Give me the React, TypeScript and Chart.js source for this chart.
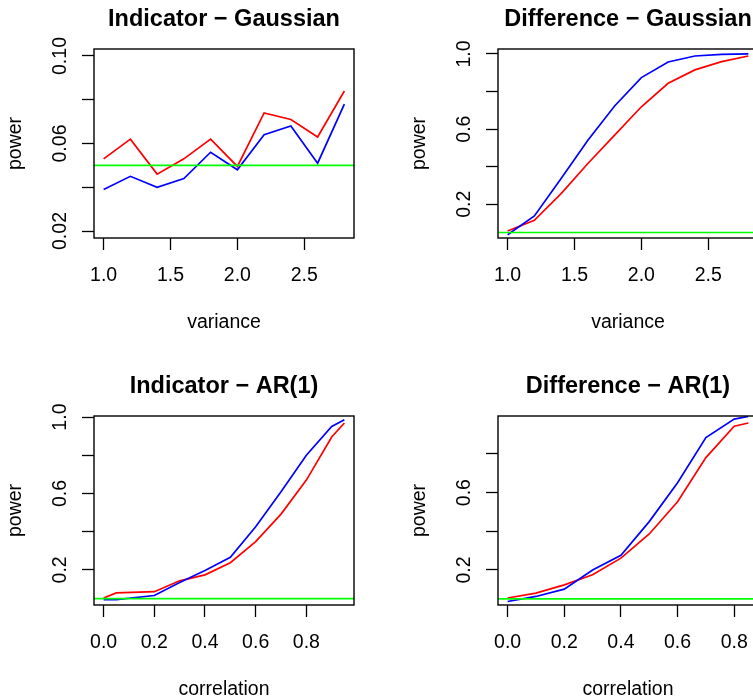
import React, { useEffect, useRef } from "react";
import { Chart, registerables } from "chart.js";

Chart.register(...registerables);

const FONT = "'Liberation Sans', Arial, Helvetica, sans-serif";

// ---------- data ----------
const variance = [1.0, 1.2, 1.4, 1.6, 1.8, 2.0, 2.2, 2.4, 2.6, 2.8];
const varianceTicks = [1.0, 1.5, 2.0, 2.5];
const varianceTickLabels = ["1.0", "1.5", "2.0", "2.5"];

const indGaussRed = [0.053, 0.062, 0.046, 0.053, 0.062, 0.0495, 0.074, 0.071, 0.063, 0.084];
const indGaussBlue = [0.039, 0.045, 0.040, 0.044, 0.056, 0.048, 0.064, 0.068, 0.051, 0.078];
const indGaussYlim = [0.02, 0.1];
const indGaussYTicks = [0.02, 0.04, 0.06, 0.08, 0.1];
const indGaussYTickLabels = ["0.02", "", "0.06", "", "0.10"];

const diffGaussRed = [0.058, 0.115, 0.257, 0.417, 0.568, 0.719, 0.844, 0.915, 0.959, 0.989];
const diffGaussBlue = [0.038, 0.138, 0.337, 0.541, 0.723, 0.874, 0.957, 0.989, 0.998, 1.0];

const powerTicks = [0.2, 0.4, 0.6, 0.8, 1.0];
const powerTickLabels = ["0.2", "", "0.6", "", "1.0"];

const corrInd = [0, 0.05, 0.2, 0.3, 0.4, 0.5, 0.6, 0.7, 0.8, 0.9, 0.95];
const indArRed = [0.053, 0.08, 0.086, 0.143, 0.174, 0.238, 0.348, 0.492, 0.67, 0.896, 0.969];
const indArBlue = [0.044, 0.045, 0.066, 0.134, 0.197, 0.266, 0.426, 0.609, 0.8, 0.951, 0.986];

const corrDiff = [0, 0.1, 0.2, 0.3, 0.4, 0.5, 0.6, 0.7, 0.8, 0.85];
const diffArRed = [0.055, 0.08, 0.123, 0.175, 0.261, 0.386, 0.553, 0.781, 0.943, 0.96];
const diffArBlue = [0.037, 0.063, 0.101, 0.2, 0.276, 0.45, 0.651, 0.885, 0.98, 0.994];

const corrTicks = [0, 0.2, 0.4, 0.6, 0.8];
const corrTickLabels = ["0.0", "0.2", "0.4", "0.6", "0.8"];

const alphaLevel = 0.05;

type Panel = {
  title: string;
  xLabel: string;
  x: number[];
  red: number[];
  blue: number[];
  ylim: number[] | null;
  xTicks: number[];
  xTickLabels: string[];
  yTicks: number[];
  yTickLabels: string[];
};

const PANELS: Panel[] = [
  { title: "Indicator \u2212 Gaussian", xLabel: "variance", x: variance, red: indGaussRed, blue: indGaussBlue, ylim: indGaussYlim, xTicks: varianceTicks, xTickLabels: varianceTickLabels, yTicks: indGaussYTicks, yTickLabels: indGaussYTickLabels },
  { title: "Difference \u2212 Gaussian", xLabel: "variance", x: variance, red: diffGaussRed, blue: diffGaussBlue, ylim: null, xTicks: varianceTicks, xTickLabels: varianceTickLabels, yTicks: powerTicks, yTickLabels: powerTickLabels },
  { title: "Indicator \u2212 AR(1)", xLabel: "correlation", x: corrInd, red: indArRed, blue: indArBlue, ylim: null, xTicks: corrTicks, xTickLabels: corrTickLabels, yTicks: powerTicks, yTickLabels: powerTickLabels },
  { title: "Difference \u2212 AR(1)", xLabel: "correlation", x: corrDiff, red: diffArRed, blue: diffArBlue, ylim: null, xTicks: corrTicks, xTickLabels: corrTickLabels, yTicks: powerTicks, yTickLabels: powerTickLabels },
];

// ---------- helpers ----------
const padRange = (lo: number, hi: number) => {
  const d = (hi - lo) * 0.04;
  return [lo - d, hi + d];
};

const labelFor = (ticks: number[], labels: string[], v: number) => {
  for (let i = 0; i < ticks.length; i++) if (Math.abs(ticks[i] - v) < 1e-9) return labels[i];
  return "";
};

const boxPlugin = {
  id: "rbox",
  afterDatasetsDraw(chart: any) {
    const { ctx, chartArea } = chart;
    ctx.save();
    ctx.strokeStyle = "#000";
    ctx.lineWidth = 1.4;
    ctx.strokeRect(chartArea.left, chartArea.top, chartArea.right - chartArea.left, chartArea.bottom - chartArea.top);
    ctx.restore();
  },
};

const PANEL_W = 404;
const PANEL_H = 367;

function PanelChart({ panel, left, top }: { panel: Panel; left: number; top: number }) {
  const ref = useRef<HTMLCanvasElement | null>(null);
  useEffect(() => {
    if (!ref.current) return;
    const [xMin, xMax] = padRange(Math.min(...panel.x), Math.max(...panel.x));
    const yl = panel.ylim ?? [Math.min(...panel.red), Math.max(...panel.red)];
    const [yMin, yMax] = padRange(yl[0], yl[1]);
    const pts = (ys: number[]) => ys.map((y, i) => ({ x: panel.x[i], y }));
    const tickFont = { family: FONT, size: 19.5, lineHeight: 1.2 };
    const widest = panel.yTickLabels.some((l) => l.length > 3);
    const grid = {
      display: true,
      drawOnChartArea: false,
      drawTicks: true,
      tickLength: 12,
      tickWidth: 1.3,
      tickColor: "#000",
    };
    const chart = new Chart(ref.current, {
      type: "line",
      data: {
        datasets: [
          { data: [{ x: xMin, y: alphaLevel }, { x: xMax, y: alphaLevel }], borderColor: "#00FF00", borderWidth: 1.7 },
          { data: pts(panel.blue), borderColor: "#0000FF", borderWidth: 1.7 },
          { data: pts(panel.red), borderColor: "#FF0000", borderWidth: 1.7 },
        ],
      },
      options: {
        animation: false,
        responsive: false,
        devicePixelRatio: 1,
        events: [],
        layout: { padding: { left: 0, right: 50, top: 0, bottom: 0 } },
        elements: { point: { radius: 0 }, line: { tension: 0 } },
        plugins: {
          legend: { display: false },
          tooltip: { enabled: false },
          title: {
            display: true,
            text: panel.title,
            fullSize: false,
            color: "#000",
            font: { family: FONT, size: 23.5, weight: "bold", lineHeight: 1.2 },
            padding: { top: 5.8, bottom: 15 },
          },
        },
        scales: {
          x: {
            type: "linear",
            min: xMin,
            max: xMax,
            afterBuildTicks: (s: any) => {
              s.ticks = panel.xTicks.filter((v) => v >= s.min - 1e-9 && v <= s.max + 1e-9).map((v) => ({ value: v }));
            },
            afterFit: (s: any) => {
              s.height = 129;
            },
            border: { display: false },
            grid,
            ticks: {
              autoSkip: false,
              maxRotation: 0,
              minRotation: 0,
              color: "#000",
              font: tickFont,
              padding: 14,
              callback: (v: any) => labelFor(panel.xTicks, panel.xTickLabels, Number(v)),
            },
            title: { display: true, text: panel.xLabel, color: "#000", font: tickFont, padding: { top: 0, bottom: 33 } },
          },
          y: {
            type: "linear",
            min: yMin,
            max: yMax,
            afterBuildTicks: (s: any) => {
              s.ticks = panel.yTicks.filter((v) => v >= s.min - 1e-9 && v <= s.max + 1e-9).map((v) => ({ value: v }));
            },
            afterFit: (s: any) => {
              s.width = 94;
            },
            border: { display: false },
            grid,
            ticks: {
              autoSkip: false,
              minRotation: 90,
              maxRotation: 90,
              crossAlign: "center",
              color: "#000",
              font: tickFont,
              padding: widest ? 2.3 : 7.7,
              callback: (v: any) => labelFor(panel.yTicks, panel.yTickLabels, Number(v)),
            },
            title: { display: true, text: "power", color: "#000", font: tickFont, padding: { top: 3.5, bottom: 0 } },
          },
        },
      } as any,
      plugins: [boxPlugin],
    });
    return () => chart.destroy();
  }, [panel]);
  return (
    <canvas
      ref={ref}
      width={PANEL_W}
      height={PANEL_H}
      style={{ position: "absolute", left, top, width: PANEL_W, height: PANEL_H }}
    />
  );
}

export default function App() {
  return (
    <div
      style={{
        position: "absolute",
        left: 0,
        top: 0,
        width: 753,
        height: 699,
        overflow: "hidden",
        background: "#fff",
      }}
    >
      {PANELS.map((p, i) => (
        <PanelChart key={i} panel={p} left={(i % 2) * PANEL_W} top={Math.floor(i / 2) * PANEL_H} />
      ))}
    </div>
  );
}
